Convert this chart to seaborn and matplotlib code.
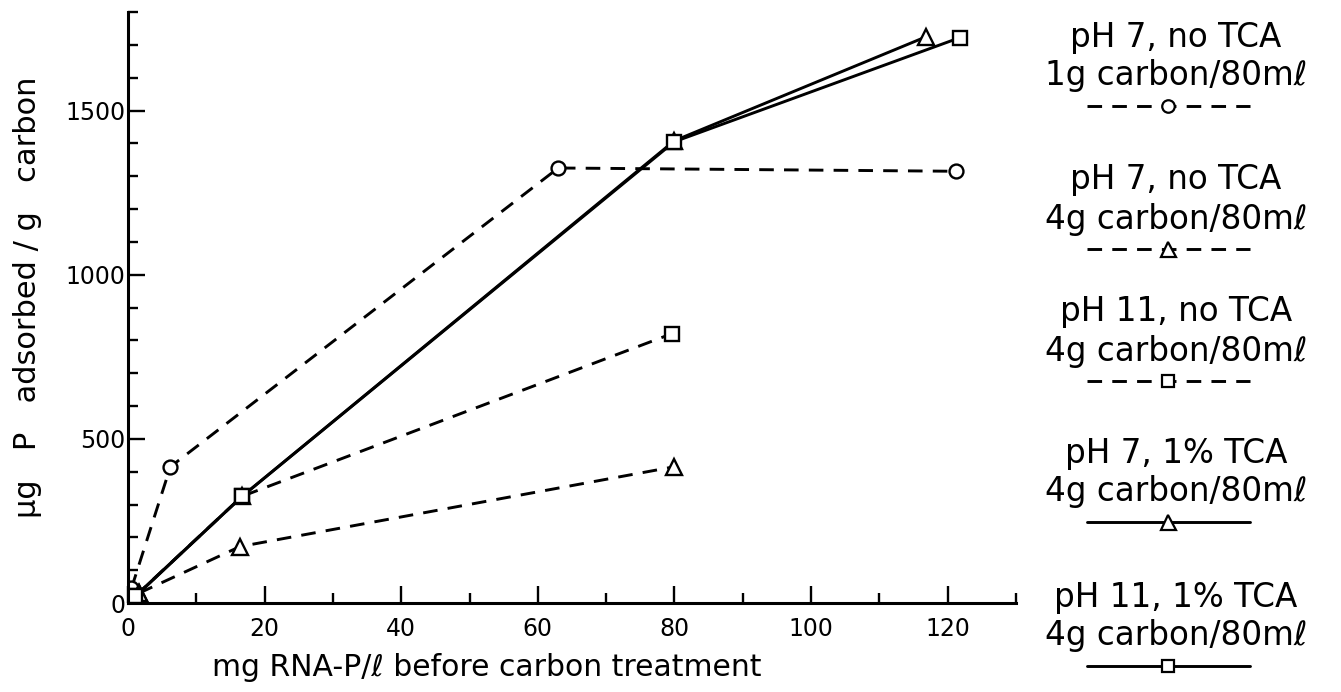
import matplotlib
matplotlib.use("Agg")
import matplotlib.pyplot as plt
import seaborn as sns
import numpy as np

# values
circ_x = [0.5, 6.2, 63, 121.3]            # pH 7, no TCA, 1g carbon (dashed, circles)
circ_y = [45, 415, 1325, 1315]
tri_dash_x = [1.6, 16.4, 80]              # pH 7, no TCA, 4g carbon (dashed, triangles)
tri_dash_y = [30, 172, 415]
sq_dash_x = [1.0, 16.7, 79.6]             # pH 11, no TCA, 4g carbon (dashed, squares)
sq_dash_y = [20, 325, 820]
tri_solid_x = [1.6, 16.7, 80, 116.9]      # pH 7, 1% TCA, 4g carbon (solid, triangles)
tri_solid_y = [30, 325, 1408, 1725]
sq_solid_x = [1.0, 16.7, 80, 121.8]       # pH 11, 1% TCA, 4g carbon (solid, squares)
sq_solid_y = [20, 325, 1405, 1722]

legend_lines = [
    ("pH 7, no TCA", "1g carbon/80mℓ", "--", "o"),
    ("pH 7, no TCA", "4g carbon/80mℓ", "--", "^"),
    ("pH 11, no TCA", "4g carbon/80mℓ", "--", "s"),
    ("pH 7, 1% TCA", "4g carbon/80mℓ", "-", "^"),
    ("pH 11, 1% TCA", "4g carbon/80mℓ", "-", "s"),
]
legend_tops = [37, 180, 312, 453, 597]

sns.set_theme(style="ticks")
plt.rcParams['font.family'] = ['DejaVu Sans']
for k in ["text.color", "axes.labelcolor", "xtick.color", "ytick.color", "axes.edgecolor"]:
    plt.rcParams[k] = "black"

fig = plt.figure(figsize=(13.41, 6.92), dpi=100)
ax = fig.add_axes([0.0955, 0.1286, 0.662, 0.854])

DASH = (5, 3.5)
LW = 2.1
msize = {"o": 10, "^": 12, "s": 9.5}

def draw(xs, ys, ls, mk):
    kw = dict(x=xs, y=ys, ax=ax, color="black", linewidth=LW, marker=mk,
              markersize=msize[mk], markerfacecolor="white", markeredgecolor="black",
              markeredgewidth=1.7, estimator=None, sort=False)
    sns.lineplot(**kw)
    if ls == "--":
        ax.lines[-1].set_dashes(DASH)

draw(circ_x, circ_y, "--", "o")
draw(tri_dash_x, tri_dash_y, "--", "^")
draw(sq_dash_x, sq_dash_y, "--", "s")
draw(tri_solid_x, tri_solid_y, "-", "^")
draw(sq_solid_x, sq_solid_y, "-", "s")

ax.set_xlim(0, 130)
ax.set_ylim(0, 1800)
ax.set_xticks(np.arange(0, 121, 20))
ax.set_xticks(np.arange(10, 131, 20), minor=True)
ax.set_yticks([0, 500, 1000, 1500])
ax.set_yticks([y for y in range(100, 1801, 100) if y % 500], minor=True)
ax.tick_params(which="both", direction="in", width=1.7, colors="black", labelsize=17)
ax.tick_params(which="major", length=12)
ax.tick_params(which="minor", length=7)
ax.tick_params(axis="x", pad=10)
ax.tick_params(axis="y", pad=2)
for s in ["top", "right"]:
    ax.spines[s].set_visible(False)
for s in ["left", "bottom"]:
    ax.spines[s].set_linewidth(2.2)
ax.set_facecolor("white")

ax.set_xlabel("mg RNA-P/ℓ before carbon treatment", fontsize=21.5)
ax.set_ylabel("μg   P   adsorbed / g   carbon", fontsize=22)
ax.xaxis.set_label_coords(0.404, -0.085)
ax.yaxis.set_label_coords(-0.097, 0.518)

# hand-drawn style legend at the right
lax = fig.add_axes([1020 / 1341, 0, 321 / 1341, 1])
lax.set_xlim(1020, 1341)
lax.set_ylim(692, 0)
lax.axis("off")
for (l1, l2, ls, mk), y0 in zip(legend_lines, legend_tops):
    lax.text(1176, y0, l1, ha="center", va="center", fontsize=23.5)
    lax.text(1176, y0 + 39, l2, ha="center", va="center", fontsize=23.5)
    ln, = lax.plot([1087, 1168, 1250], [y0 + 69] * 3, color="black", linewidth=LW,
                   linestyle=ls, marker=mk, markevery=[1], markersize=msize[mk] * 0.9,
                   markerfacecolor="white", markeredgecolor="black", markeredgewidth=1.6)
    if ls == "--":
        ln.set_dashes(DASH)

fig.savefig("out.png", dpi=100, facecolor="white")
